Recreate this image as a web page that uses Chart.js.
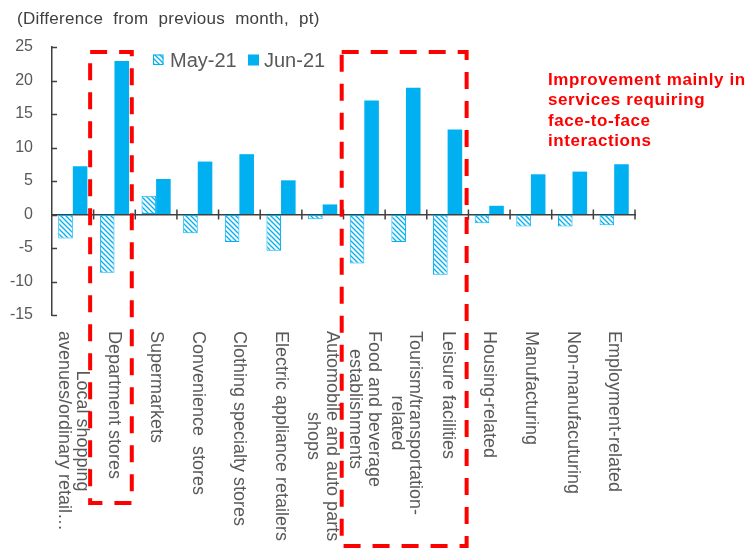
<!DOCTYPE html>
<html>
<head>
<meta charset="utf-8">
<script src="https://cdn.jsdelivr.net/npm/chart.js@4/dist/chart.umd.min.js"></script>
<style>
  body { margin: 0; background: #fff; }
  canvas { display: block; }
</style>
</head>
<body>
<canvas id="chart" width="749" height="548"></canvas>
<script>
// categories (multi-line labels are arrays)
const categories = [
    ['Local shopping', 'avenues/ordinary retail…'],
    'Department stores',
    'Supermarkets',
    'Convenience  stores',
    'Clothing specialty stores',
    'Electric appliance retailers',
    ['Automobile and auto parts', 'shops'],
    ['Food and beverage', 'establishments'],
    ['Tourism/transportation-', 'related'],
    'Leisure facilities',
    'Housing-related',
    'Manufacturing',
    'Non-manufacuturing',
    'Employment-related'
];
const may21 = [-3.6, -8.7, 2.8, -2.8, -4.1, -5.4, -0.7, -7.3, -4.1, -9.0, -1.3, -1.8, -1.8, -1.6];
const jun21 = [7.2, 22.9, 5.3, 7.9, 9.0, 5.1, 1.5, 17.0, 18.9, 12.7, 1.3, 6.0, 6.4, 7.5];
const seriesNames = ['May-21', 'Jun-21'];
const yMin = -15, yMax = 25, yStep = 5;

const titleText = '(Difference  from  previous  month,  pt)';
const noteLines = ['Improvement mainly in', 'services requiring', 'face-to-face', 'interactions'];
// category ranges boxed with red dashes: [first, last]
const boxes = [[1, 1], [7, 9]];

const BLUE = '#00B0F0';
const GREY = '#595959';
const AXIS = '#404040';
const FONT = '"Liberation Sans", Arial, sans-serif';

Chart.defaults.font.family = FONT;

const canvas = document.getElementById('chart');
const ctx = canvas.getContext('2d');

function hatch(color) {
    const c = document.createElement('canvas');
    c.width = 5; c.height = 5;
    const p = c.getContext('2d');
    p.fillStyle = '#fff';
    p.fillRect(0, 0, 5, 5);
    p.strokeStyle = color;
    p.lineWidth = 1.3;
    p.beginPath();
    p.moveTo(0, 0); p.lineTo(5, 5);
    p.moveTo(-1, 4); p.lineTo(1, 6);
    p.moveTo(4, -1); p.lineTo(6, 1);
    p.stroke();
    return ctx.createPattern(c, 'repeat');
}
const stripes = hatch(BLUE);

const extras = {
    id: 'extras',
    afterDraw(chart) {
        const c = chart.ctx;
        const area = chart.chartArea;
        const x = chart.scales.x;
        const y = chart.scales.y;
        const n = categories.length;
        const step = (x.right - x.left) / n;
        const bound = i => x.left + i * step;
        const zero = y.getPixelForValue(0);

        c.save();

        // tick marks: crossing the zero line, inward on the y axis
        c.strokeStyle = AXIS;
        c.lineWidth = 1.5;
        c.beginPath();
        for (let i = 1; i <= n; i++) {
            c.moveTo(bound(i), zero - 5);
            c.lineTo(bound(i), zero + 5);
        }
        for (let v = yMin; v <= yMax; v += yStep) {
            const py = Math.round(y.getPixelForValue(v)) + 0.5;
            c.moveTo(area.left, py);
            c.lineTo(area.left + 5, py);
        }
        c.stroke();

        // rotated category labels
        c.font = '18px ' + FONT;
        c.fillStyle = GREY;
        c.textAlign = 'left';
        c.textBaseline = 'middle';
        const top = area.bottom + 16;
        const lh = 18.5;
        categories.forEach((lab, i) => {
            const lines = Array.isArray(lab) ? lab : [lab];
            const cx = x.getPixelForValue(i);
            const widths = lines.map(l => c.measureText(l).width);
            const W = Math.max(...widths);
            lines.forEach((ln, j) => {
                const off = ((lines.length - 1) / 2 - j) * lh;
                c.save();
                c.translate(cx + off, top + (W - widths[j]) / 2);
                c.rotate(Math.PI / 2);
                c.fillText(ln, 0, 0);
                c.restore();
            });
        });

        // red dashed boxes
        c.strokeStyle = '#FF0000';
        c.lineWidth = 4;
        c.setLineDash([17, 12]);
        const boxBottoms = [503, 546];
        const shifts = [3.5, 1.8];
        boxes.forEach((b, k) => {
            const l = bound(b[0]) - shifts[k];
            const r = bound(b[1] + 1) - shifts[k];
            const t = 52;
            c.strokeRect(l, t, r - l, boxBottoms[k] - t);
        });
        c.setLineDash([]);

        // title
        c.fillStyle = AXIS;
        c.font = '17px ' + FONT;
        c.textBaseline = 'alphabetic';
        c.letterSpacing = '0.3px';
        c.fillText(titleText, 17, 24);
        c.letterSpacing = '0px';

        // legend
        c.font = '20px ' + FONT;
        c.fillStyle = stripes;
        c.fillRect(153, 54.5, 10.5, 10.5);
        c.strokeStyle = BLUE;
        c.lineWidth = 1;
        c.strokeRect(153.5, 55, 9.5, 9.5);
        c.fillStyle = GREY;
        c.fillText(seriesNames[0], 170, 67);
        c.fillStyle = BLUE;
        c.fillRect(248, 54.5, 11, 11);
        c.fillStyle = GREY;
        c.fillText(seriesNames[1], 264, 67);

        // note
        c.fillStyle = '#FF0000';
        c.font = 'bold 17px ' + FONT;
        c.letterSpacing = '0.6px';
        noteLines.forEach((t, i) => c.fillText(t, 548, 85 + i * 20.4));

        c.restore();
    }
};

new Chart(canvas, {
    type: 'bar',
    data: {
        labels: categories,
        datasets: [
            {
                label: seriesNames[0],
                data: may21,
                backgroundColor: stripes,
                borderColor: BLUE,
                borderWidth: 1,
                borderSkipped: false
            },
            {
                label: seriesNames[1],
                data: jun21,
                backgroundColor: BLUE,
                borderWidth: 0
            }
        ]
    },
    options: {
        responsive: false,
        animation: false,
        layout: { padding: { top: 47, right: 114, bottom: 233, left: 0 } },
        datasets: { bar: { categoryPercentage: 0.7, barPercentage: 1.0 } },
        plugins: {
            legend: { display: false },
            tooltip: { enabled: false }
        },
        scales: {
            x: {
                position: { y: 0 },
                ticks: { display: false },
                grid: { display: true, drawOnChartArea: false, drawTicks: false },
                border: { display: true, color: AXIS, width: 1.5 }
            },
            y: {
                min: yMin,
                max: yMax,
                ticks: { stepSize: yStep, color: GREY, font: { size: 16 }, padding: 19 },
                grid: { drawOnChartArea: false, drawTicks: false },
                border: { color: AXIS, width: 1.5 },
                afterFit(scale) { scale.width = 52; }
            }
        }
    },
    plugins: [extras]
});
</script>
</body>
</html>
